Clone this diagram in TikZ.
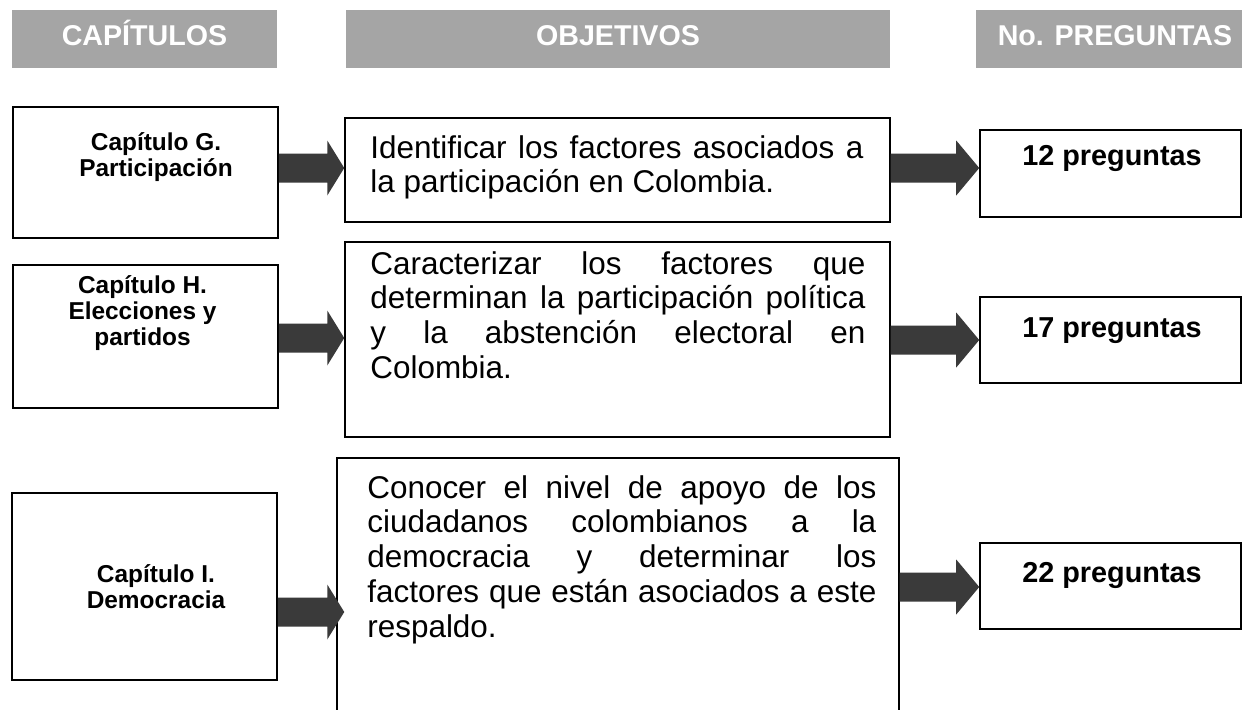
\documentclass[tikz,border=0pt]{standalone}
\usepackage{fontspec}
\setmainfont{Liberation Sans}
\usepackage{tikz}
\usetikzlibrary{calc,positioning}
\definecolor{headgray}{RGB}{165,165,165}
\definecolor{arrowgray}{RGB}{58,58,58}
\tikzstyle{headbox} = [
    fill=headgray,
    minimum height=1.16cm,
    inner sep=0pt,
    text=white,
    text height=11.3pt,
    text depth=3.4pt,
    font=\fontsize{16.3}{18}\selectfont\bfseries
]
\tikzstyle{box} = [
    draw=black,
    line width=0.9pt,
    inner sep=0pt
]
\tikzstyle{chaptext} = [
    anchor=base,
    align=center,
    inner sep=0pt,
    font=\fontsize{13.9}{14.7}\selectfont\bfseries
]
\tikzstyle{numtext} = [
    anchor=base,
    inner sep=0pt,
    font=\fontsize{16.4}{18}\selectfont\bfseries
]
\tikzstyle{objtext} = [
    anchor=base west,
    align=justify,
    inner sep=0pt,
    font=\fontsize{17.9}{19.8}\selectfont\hyphenpenalty10000\relax
]
% block arrow: start anchor, end anchor, row, head length
\newcommand{\blockarrow}[4]{%
    \fill[arrowgray] ($(#1 |- #3)+(0,-14.5)$) -- ($(#2 |- #3)+(-#4,-14.5)$)
        -- ($(#2 |- #3)+(-#4,-27.5)$) -- (#2 |- #3)
        -- ($(#2 |- #3)+(-#4,27.5)$) -- ($(#2 |- #3)+(-#4,14.5)$)
        -- ($(#1 |- #3)+(0,14.5)$) -- cycle;
}
\begin{document}
\begin{tikzpicture}[x=0.02cm, y=-0.02cm]
    \path[use as bounding box, fill=white] (0,0) rectangle (1242,710);

    % Column headers
    \node[headbox, minimum width=5.3cm] (hCap) at (144.5,39) {CAPÍTULOS};
    \node[headbox, minimum width=10.88cm] (hObj) at (618,39) {OBJETIVOS};
    \node[headbox, minimum width=5.56cm] (hNum) at (1115,39) {No. PREGUNTAS};

    % Chapter boxes (text anchored on its last line)
    \node[box, minimum width=5.3cm, minimum height=2.62cm] (chapG) at (145.5,172.5) {};
    \node[box, minimum width=5.3cm, minimum height=2.86cm] (chapH) at (145.5,336.5) {};
    \node[box, minimum width=5.3cm, minimum height=3.74cm] (chapI) at (144.5,586.5) {};
    \node[chaptext] (chapGt) at (156,176) {Capítulo G.\\Participación};
    \node[chaptext] (chapHt) at (142.5,345) {Capítulo H.\\Elecciones y\\partidos};
    \node[chaptext] (chapIt) at (156,608) {Capítulo I.\\Democracia};

    % Objective boxes
    \node[box, minimum width=10.9cm, minimum height=2.08cm] (objG) at (617.5,170) {};
    \node[box, minimum width=10.9cm, minimum height=3.9cm] (objH) at (617.5,339.5) {};
    \node[box, minimum width=11.24cm, minimum height=5.24cm] (objI) at (618,589) {};
    \node[objtext, text width=280.6pt] (objGt) at (370,158)
        {Identificar~los~factores~asociados~a\linebreak la~participación~en~Colombia.};
    \node[objtext, text width=281.8pt] (objHt) at (370,274)
        {Caracterizar~los~factores~que\linebreak
         determinan~la~participación~política\linebreak
         y~la~abstención~electoral~en\linebreak
         Colombia.};
    \node[objtext, text width=289.7pt] (objIt) at (367,498)
        {Conocer~el~nivel~de~apoyo~de~los\linebreak
         ciudadanos~colombianos~a~la\linebreak
         democracia~y~determinar~los\linebreak
         factores~que~están~asociados~a~este\linebreak
         respaldo.};

    % Question counts
    \node[box, minimum width=5.22cm, minimum height=1.74cm] (cnt12) at (1110.5,173.5) {};
    \node[box, minimum width=5.22cm, minimum height=1.72cm] (cnt17) at (1110.5,340) {};
    \node[box, minimum width=5.22cm, minimum height=1.72cm] (cnt22) at (1110.5,586) {};
    \node[numtext] (cnt12t) at (1112,165) {12 preguntas};
    \node[numtext] (cnt17t) at (1112,337) {17 preguntas};
    \node[numtext] (cnt22t) at (1112,582) {22 preguntas};

    % Arrows
    \coordinate (rG) at (0,168);
    \coordinate (rH1) at (0,338);
    \coordinate (rH2) at (0,340);
    \coordinate (rI1) at (0,612);
    \coordinate (rI2) at (0,587);
    \coordinate (objItip) at ($(objI.west)+(8,0)$);
    \blockarrow{chapG.east}{objG.west}{rG}{17}
    \blockarrow{objG.east}{cnt12.west}{rG}{23}
    \blockarrow{chapH.east}{objH.west}{rH1}{17}
    \blockarrow{objH.east}{cnt17.west}{rH2}{23}
    \blockarrow{chapI.east}{objItip}{rI1}{17}
    \blockarrow{objI.east}{cnt22.west}{rI2}{23}
\end{tikzpicture}
\end{document}
